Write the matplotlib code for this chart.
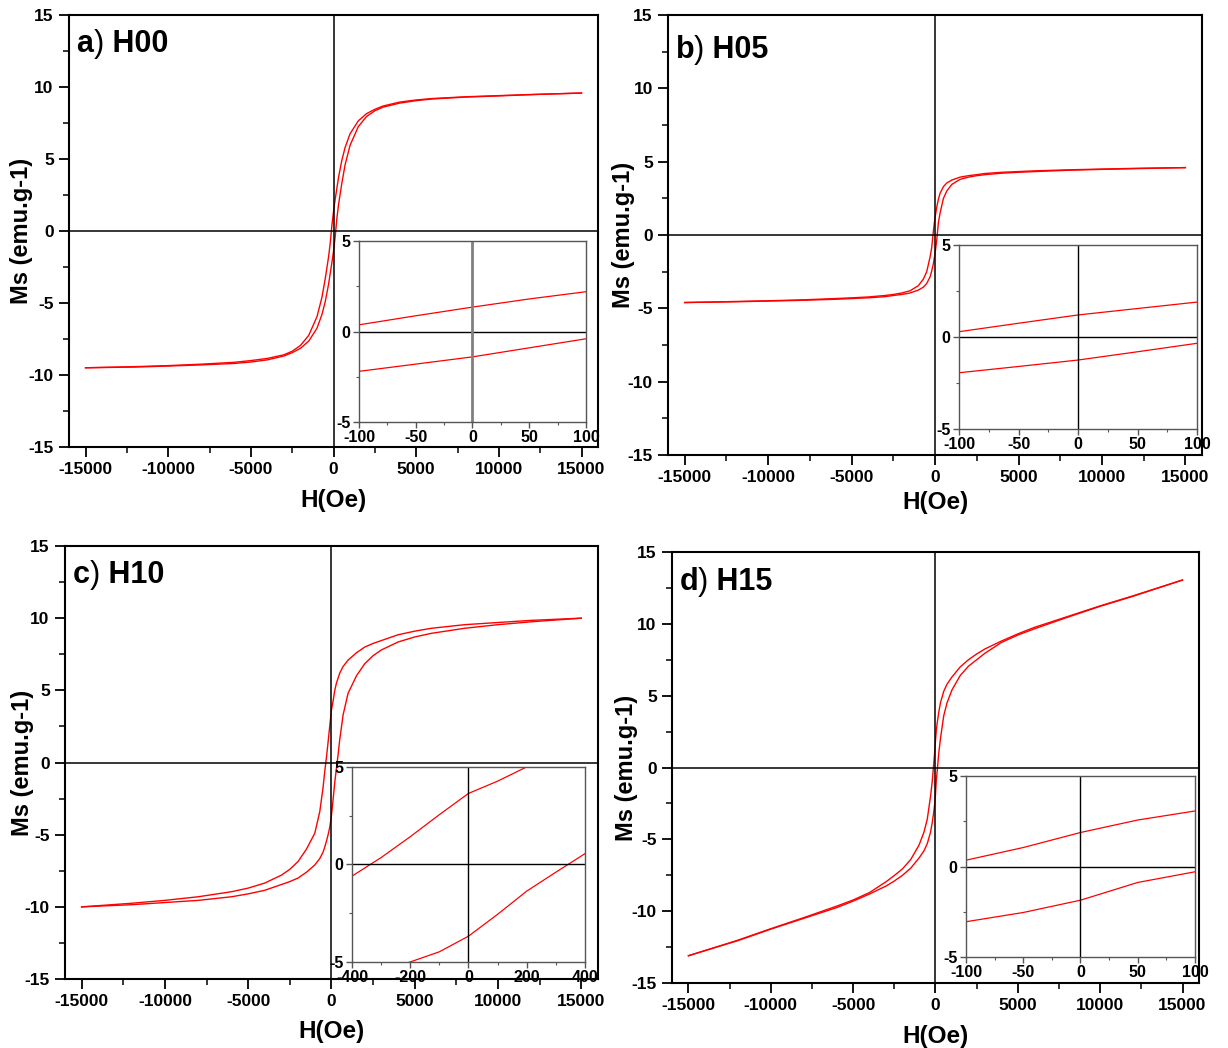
import matplotlib
matplotlib.use("Agg")
import matplotlib.pyplot as plt
from matplotlib.ticker import MultipleLocator

plt.rcParams["font.family"] = ["Liberation Sans", "DejaVu Sans"]
plt.rcParams["axes.unicode_minus"] = False

# applied field (Oe), shared by H00, H05, H15
h_field = [-15000, -12000, -10000, -8000, -6000, -5000, -4000, -3000, -2500, -2000,
           -1500, -1000, -700, -500, -300, -200, -100, -50, 0, 50, 100, 200, 300,
           500, 700, 1000, 1500, 2000, 2500, 3000, 4000, 5000, 6000, 8000, 10000,
           12000, 15000]

# H10 has a wider loop, so it is read on its own grid
h_field_c = [-15000, -12000, -10000, -8000, -6000, -5000, -4000, -3000, -2500, -2000,
             -1500, -1000, -700, -500, -400, -300, -200, -100, 0, 100, 200, 300, 400,
             500, 700, 1000, 1500, 2000, 2500, 3000, 4000, 5000, 6000, 8000, 10000,
             12000, 15000]

# H00 (down = branch coming from +H, up = branch coming from -H)
h00_down = [-9.5, -9.42, -9.35, -9.25, -9.12, -9.0, -8.85, -8.6, -8.35, -7.95,
            -7.25, -5.95, -4.6, -3.3, -1.8, -0.85, 0.37, 0.87, 1.35, 1.8, 2.2, 2.95, 3.7,
            4.9, 5.8, 6.75, 7.65, 8.15, 8.45, 8.68, 8.95, 9.1, 9.2, 9.32, 9.4,
            9.48, 9.58]
h00_up = [-9.5, -9.45, -9.38, -9.3, -9.2, -9.1, -8.95, -8.68, -8.45, -8.15,
          -7.65, -6.75, -5.8, -4.9, -3.7, -2.95, -2.2, -1.8, -1.4, -0.9, -0.4, 0.85, 1.8,
          3.3, 4.6, 5.95, 7.25, 7.95, 8.35, 8.6, 8.88, 9.05, 9.17, 9.3, 9.38,
          9.47, 9.58]

# H05
h05_down = [-4.6, -4.53, -4.48, -4.42, -4.33, -4.28, -4.22, -4.12, -4.05, -3.95,
            -3.8, -3.45, -3.0, -2.5, -1.5, -0.85, 0.29, 0.75, 1.2, 1.55, 1.9, 2.45, 2.85,
            3.3, 3.55, 3.75, 3.95, 4.05, 4.12, 4.2, 4.28, 4.33, 4.38, 4.45, 4.5,
            4.55, 4.6]
h05_up = [-4.6, -4.55, -4.5, -4.45, -4.38, -4.33, -4.28, -4.2, -4.12, -4.05,
          -3.95, -3.75, -3.55, -3.3, -2.85, -2.45, -1.94, -1.6, -1.25, -0.8, -0.34, 0.85, 1.5,
          2.5, 3.0, 3.45, 3.8, 3.95, 4.05, 4.12, 4.22, 4.28, 4.33, 4.42, 4.48,
          4.53, 4.6]

# H10
h10_down = [-10.0, -9.75, -9.55, -9.3, -8.95, -8.7, -8.35, -7.8, -7.4, -6.85,
            -6.0, -4.9, -3.4, -1.7, -0.6, 0.35, 1.42, 2.55, 3.64, 4.27, 5.0, 5.5, 5.85,
            6.2, 6.65, 7.1, 7.6, 8.0, 8.25, 8.45, 8.85, 9.1, 9.3, 9.55, 9.7,
            9.85, 10.0]
h10_up = [-10.0, -9.85, -9.7, -9.55, -9.3, -9.1, -8.85, -8.45, -8.25, -8.0,
          -7.6, -7.1, -6.65, -6.2, -5.85, -5.45, -5.0, -4.48, -3.68, -2.56, -1.37, -0.4, 0.55,
          1.6, 3.3, 4.8, 6.0, 6.85, 7.4, 7.8, 8.35, 8.7, 8.95, 9.3, 9.55,
          9.75, 10.0]

# H15
h15_down = [-13.1, -12.02, -11.22, -10.45, -9.65, -9.22, -8.7, -7.95, -7.52, -7.05,
            -6.4, -5.4, -4.5, -3.6, -2.0, -1.0, 0.35, 1.05, 1.88, 2.57, 3.07, 3.85, 4.5,
            5.3, 5.8, 6.3, 7.0, 7.5, 7.9, 8.25, 8.8, 9.3, 9.75, 10.5, 11.25,
            11.95, 13.05]
h15_up = [-13.1, -12.05, -11.25, -10.5, -9.75, -9.3, -8.8, -8.25, -7.9, -7.5,
          -7.0, -6.3, -5.8, -5.3, -4.5, -3.85, -3.05, -2.54, -1.86, -0.88, -0.29, 1.0, 2.0,
          3.6, 4.5, 5.4, 6.4, 7.05, 7.5, 7.95, 8.7, 9.22, 9.65, 10.45, 11.22,
          11.92, 13.05]

tags = ["a", "b", "c", "d"]
names = ["H00", "H05", "H10", "H15"]
inset_ranges = [100, 100, 400, 100]

# axes placement in figure fractions
main_rects = [[0.0562, 0.5735, 0.4308, 0.4122],
              [0.5440, 0.5658, 0.4349, 0.4198],
              [0.0529, 0.0658, 0.4340, 0.4132],
              [0.5472, 0.0620, 0.4292, 0.4113]]
inset_rects = [[0.2923, 0.5973, 0.1849, 0.1727],
               [0.7810, 0.5906, 0.1938, 0.1756],
               [0.2866, 0.0821, 0.1897, 0.1861],
               [0.7866, 0.0868, 0.1865, 0.1727]]
ylabel_x = [-0.090, -0.084, -0.080, -0.087]
xlabel_y = [-0.123, -0.107, -0.120, -0.123]
tag_y = [0.914, 0.902, 0.915, 0.912]

curves = [(h_field, h00_down, h00_up),
          (h_field, h05_down, h05_up),
          (h_field_c, h10_down, h10_up),
          (h_field, h15_down, h15_up)]

fig = plt.figure(figsize=(12.28, 10.48), dpi=100)

for i in range(4):
    h, down, up = curves[i]

    ax = fig.add_axes(main_rects[i])
    ax.plot(h, down, color="red", lw=1.0)
    ax.plot(h, up, color="red", lw=1.0)
    ax.axhline(0, color="black", lw=1.1)
    ax.axvline(0, color="black", lw=1.1)
    ax.set_xlim(-16000, 16000)
    ax.set_ylim(-15, 15)
    ax.xaxis.set_major_locator(MultipleLocator(5000))
    ax.xaxis.set_minor_locator(MultipleLocator(2500))
    ax.yaxis.set_major_locator(MultipleLocator(5))
    ax.yaxis.set_minor_locator(MultipleLocator(2.5))
    ax.tick_params(which="major", direction="out", length=7, width=1.3,
                   labelsize=12.5, pad=4)
    ax.tick_params(which="minor", direction="out", length=4, width=1.1)
    for lab in ax.get_xticklabels() + ax.get_yticklabels():
        lab.set_fontweight("bold")
    for sp in ax.spines.values():
        sp.set_linewidth(1.5)

    ax.set_xlabel("H(Oe)", fontsize=17.5, fontweight="bold", va="center")
    ax.xaxis.set_label_coords(0.5, xlabel_y[i])
    ax.set_ylabel("Ms (emu.g-1)", fontsize=17, fontweight="bold", va="center")
    ax.yaxis.set_label_coords(ylabel_x[i], 0.5)

    # panel tag: bold letter, thin parenthesis, bold sample name
    t1 = ax.text(0.014, tag_y[i], tags[i], transform=ax.transAxes,
                 fontsize=22, fontweight="bold", va="baseline")
    t2 = ax.annotate(")", xy=(1, 0), xycoords=t1, fontsize=22,
                     fontweight="normal", va="bottom")
    ax.annotate(" " + names[i], xy=(1, 0), xycoords=t2, fontsize=22,
                fontweight="bold", va="bottom")

    # zoomed inset around H = 0
    ins = fig.add_axes(inset_rects[i])
    ins.plot(h, down, color="red", lw=0.9)
    ins.plot(h, up, color="red", lw=0.9)
    ins.axhline(0, color="black", lw=1.0)
    if i == 0:
        ins.axvline(0, color="#808080", lw=2.0)
    else:
        ins.axvline(0, color="black", lw=1.0)
    r = inset_ranges[i]
    ins.set_xlim(-r, r)
    ins.set_ylim(-5, 5)
    ins.xaxis.set_major_locator(MultipleLocator(r / 2))
    ins.xaxis.set_minor_locator(MultipleLocator(r / 4))
    ins.yaxis.set_major_locator(MultipleLocator(5))
    ins.yaxis.set_minor_locator(MultipleLocator(2.5))
    ins.tick_params(which="major", direction="out", length=4, width=1.0,
                    labelsize=11.5, pad=2, color="#555555")
    ins.tick_params(which="minor", direction="out", length=2, width=0.8,
                    color="#555555")
    for lab in ins.get_xticklabels() + ins.get_yticklabels():
        lab.set_fontweight("bold")
    for sp in ins.spines.values():
        sp.set_linewidth(1.0)
        sp.set_color("#555555")

fig.savefig("out.png", dpi=100)
